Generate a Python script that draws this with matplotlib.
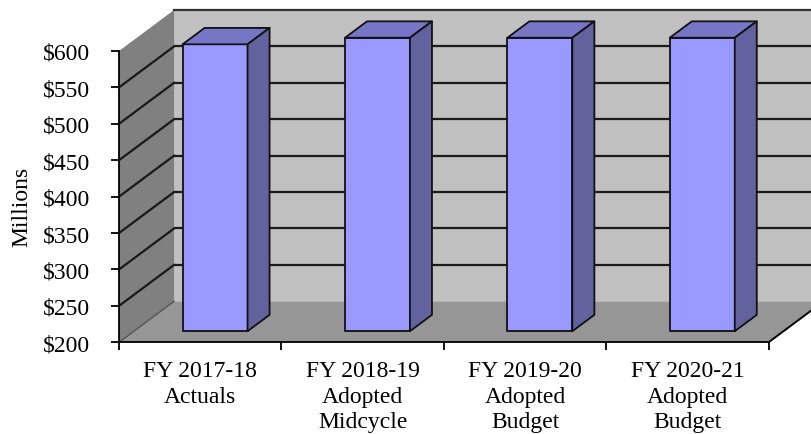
"""General fund expenditures, pseudo-3D column chart."""
import matplotlib
matplotlib.use("Agg")
import matplotlib.pyplot as plt
from matplotlib.patches import Polygon

categories = [
    "FY 2017-18\nActuals",
    "FY 2018-19\nAdopted\nMidcycle",
    "FY 2019-20\nAdopted\nBudget",
    "FY 2020-21\nAdopted\nBudget",
]
values = [594, 603, 603, 603]
y_ticks = [200, 250, 300, 350, 400, 450, 500, 550, 600]
y_labels = [f"${v}" for v in y_ticks]

YMIN, YMAX = 200, 600
# depth offset of the back plane, in data units (categories, dollars)
DX, DY = 0.339, 56.3
BAR_W = 0.4
D0, D1 = 0.27, 0.67  # bar depth span as fraction of full depth
FS = 17

plt.rcParams["font.family"] = ["Liberation Serif", "DejaVu Serif"]

fig = plt.figure(figsize=(8.12, 4.35), dpi=100)
ax = fig.add_axes([119 / 812, (435 - 343.3) / 435, 649.6 / 812, 291.3 / 435])
ax.set_xlim(0, len(categories))
ax.set_ylim(YMIN, YMAX)
n = len(categories)


def poly(pts, **kw):
    p = Polygon(pts, closed=True, clip_on=False, **kw)
    ax.add_patch(p)
    return p


# walls and floor
poly([(DX, YMIN + DY), (n + DX + 1, YMIN + DY), (n + DX + 1, YMAX + DY), (DX, YMAX + DY)],
     facecolor="#c0c0c0", edgecolor="none", zorder=1)
poly([(0, YMIN), (DX, YMIN + DY), (DX, YMAX + DY), (0, YMAX)],
     facecolor="#808080", edgecolor="none", zorder=1)
poly([(0, YMIN), (n, YMIN), (n + DX, YMIN + DY), (DX, YMIN + DY)],
     facecolor="#969696", edgecolor="none", zorder=1)

# gridlines on back wall and side wall
for v in y_ticks[1:-1]:
    ax.plot([DX, n + DX + 1], [v + DY, v + DY], color="#1a1a1a", lw=1.6,
            clip_on=False, zorder=2, solid_capstyle="butt")
    ax.plot([0, DX], [v, v + DY], color="#1a1a1a", lw=1.6, clip_on=False, zorder=2)
ax.plot([DX, n + DX + 1], [YMAX + DY, YMAX + DY], color="#333333", lw=1.6,
        clip_on=False, zorder=2)
ax.plot([0, DX], [YMIN, YMIN + DY], color="#555555", lw=1.0, clip_on=False, zorder=2)
ax.plot([n, n + DX], [YMIN, YMIN + DY], color="black", lw=1.4, clip_on=False, zorder=2)

# bars
edge = dict(edgecolor="#111111", linewidth=1.3, joinstyle="round", zorder=3)
for i, val in enumerate(values):
    x0 = i + 0.5 - BAR_W / 2
    x1 = i + 0.5 + BAR_W / 2
    fx, fy = D0 * DX, D0 * DY
    bx, by = D1 * DX, D1 * DY
    poly([(x0 + fx, YMIN + fy), (x1 + fx, YMIN + fy), (x1 + fx, val + fy), (x0 + fx, val + fy)],
         facecolor="#9999ff", **edge)
    poly([(x0 + fx, val + fy), (x1 + fx, val + fy), (x1 + bx, val + by), (x0 + bx, val + by)],
         facecolor="#7676c6", **edge)
    poly([(x1 + fx, YMIN + fy), (x1 + bx, YMIN + by), (x1 + bx, val + by), (x1 + fx, val + fy)],
         facecolor="#62629f", **edge)

# axes styling
for side in ("top", "right"):
    ax.spines[side].set_visible(False)
for side in ("left", "bottom"):
    ax.spines[side].set_linewidth(1.3)
    ax.spines[side].set_zorder(4)
ax.set_facecolor("none")

ax.set_yticks(y_ticks)
ax.set_yticklabels(y_labels, fontsize=FS)
ax.tick_params(axis="y", length=6, width=1.3, pad=15)

ax.set_xticks(range(n + 1))
ax.set_xticklabels([])
ax.set_xticks([i + 0.5 for i in range(n)], minor=True)
ax.set_xticklabels(categories, minor=True, fontsize=FS, linespacing=1.28)
ax.tick_params(axis="x", which="major", length=6, width=1.3)
ax.tick_params(axis="x", which="minor", length=0, pad=13)

fig.text(22 / 812, 1 - 207 / 435, "Millions", rotation=90, fontsize=FS,
         ha="center", va="center")

fig.savefig("out.png", dpi=100)
